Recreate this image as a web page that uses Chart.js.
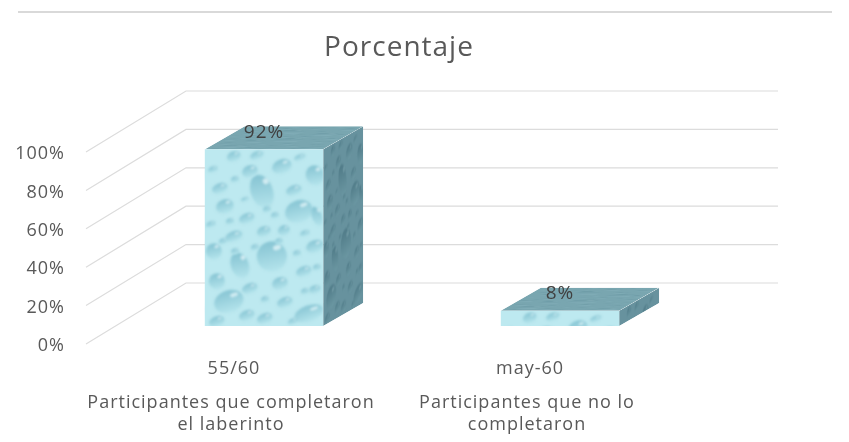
<!DOCTYPE html>
<html><head><meta charset="utf-8">
<style>html,body{margin:0;padding:0;background:#fff}#w{position:relative;width:849px;height:442px;overflow:hidden}
#rule{position:absolute;left:18px;top:11px;width:814px;height:2px;background:#d9d9d9}canvas{display:block}</style>
<script src="https://cdn.jsdelivr.net/npm/chart.js@4"></script></head>
<body><div id="w"><div id="rule"></div><canvas id="c" width="849" height="442"></canvas></div>
<script>
const title = 'Porcentaje';
const fractionLabels = ['55/60', 'may-60'];
const groupLabels = [['Participantes que completaron', 'el laberinto'], ['Participantes que no lo', 'completaron']];
const percentages = [92, 8];
const FONT = '"Open Sans", sans-serif';
const WALL = {dx: 100, dy: -61};
const BAR_OFFSET = {dx: 30, dy: -18};
const BAR_DEPTH = {dx: 40, dy: -23};
// water-drop texture motif: [x, y, rx, ry] within a 118x177 tile
const drops = [[57,42,11,17],[94,62,14,11],[110,26,9,10],[67,107,15,15],[35,116,9,13],[24,152,15,11],[104,164,15,8],[20,57,9,7],[45,22,8,6],[77,17,10,7],[89,41,8,5],[29,7,7,5],[52,6,7,4],[15,39,8,5],[42,69,8,5],[59,82,7,5],[29,87,9,5],[79,81,6,5],[110,97,9,6],[9,102,8,8],[12,132,8,8],[45,139,8,5],[75,134,8,6],[99,122,8,5],[80,153,8,5],[60,169,8,5],[42,166,8,5],[12,172,8,5],[112,67,5,10],[6,75,5,3],[100,84,5,3],[62,60,4,3],[95,8,6,3],[110,140,6,4],[70,66,4,3],[30,30,4,3],[8,20,5,3],[50,98,4,3],[92,104,4,3],[30,102,4,3],[60,150,4,3],[100,142,4,3],[112,118,4,3],[18,92,4,3],[40,50,4,2],[74,92,4,3],[25,72,4,3],[88,172,5,3]];
function tile(base, hi, dark, shine) {
  const t = document.createElement('canvas'); t.width = 118; t.height = 177;
  const g = t.getContext('2d');
  g.fillStyle = base; g.fillRect(0, 0, 118, 177);
  g.filter = 'blur(0.8px)';
  drops.forEach(([x, y, rx, ry]) => {
    const gr = g.createLinearGradient(x - rx * .4, y - ry, x, y + ry);
    gr.addColorStop(0, hi); gr.addColorStop(1, dark);
    g.fillStyle = gr; g.beginPath(); g.ellipse(x, y, rx, ry, -0.35, 0, 7); g.fill();
    g.fillStyle = shine; g.beginPath(); g.ellipse(x + rx * .35, y - ry * .6, rx * .28, ry * .18, -0.35, 0, 7); g.fill();
  });
  return t;
}
const ctx0 = document.getElementById('c').getContext('2d');
const frontTile = tile('#bde9f0', '#86c4d3', '#b4e4ec', 'rgba(235,250,252,.7)');
const sideTile = tile('#67929e', '#4f7a87', '#6b97a2', 'rgba(150,185,195,.35)');
const topTile = tile('#79a6b0', '#6d9ba6', '#82aeb8', 'rgba(160,195,203,.25)');
const frontPatterns = percentages.map(() => ctx0.createPattern(frontTile, 'repeat'));

const threeD = {
  id: 'threeD',
  beforeLayout(chart) { chart.ctx.letterSpacing = '1px'; },
  beforeDraw(chart) { chart.ctx.letterSpacing = '1px'; },
  beforeDatasetsDraw(chart) {
    const {ctx, chartArea: a, scales: {y}} = chart;
    ctx.save(); ctx.strokeStyle = '#dcdcdc'; ctx.lineWidth = 1.2;
    y.ticks.forEach(t => {
      const py = y.getPixelForValue(t.value);
      ctx.beginPath(); ctx.moveTo(a.left, py);
      ctx.lineTo(a.left + WALL.dx, py + WALL.dy);
      ctx.lineTo(a.right + WALL.dx, py + WALL.dy); ctx.stroke();
    });
    ctx.restore();
  },
  beforeDatasetDraw(chart, args) {
    const {ctx} = chart;
    args.meta.data.forEach((el, i) => {
      frontPatterns[i].setTransform(new DOMMatrix().translate(el.x - el.width / 2, el.y));
    });
    ctx.save(); ctx.translate(BAR_OFFSET.dx, BAR_OFFSET.dy);
  },
  afterDatasetDraw(chart, args) {
    const {ctx} = chart;
    const {dx, dy} = BAR_DEPTH;
    args.meta.data.forEach(el => {
      const l = el.x - el.width / 2, r = el.x + el.width / 2, h = el.base - el.y;
      // side face
      ctx.save(); ctx.beginPath();
      ctx.moveTo(r, el.y); ctx.lineTo(r + dx, el.y + dy); ctx.lineTo(r + dx, el.base + dy); ctx.lineTo(r, el.base); ctx.closePath(); ctx.clip();
      ctx.transform(dx / 118, dy / 118, 0, 1, r, el.y);
      ctx.fillStyle = ctx.createPattern(sideTile, 'repeat'); ctx.fillRect(0, 0, 118, h); ctx.restore();
      // top face
      ctx.save(); ctx.beginPath();
      ctx.moveTo(l, el.y); ctx.lineTo(l + dx, el.y + dy); ctx.lineTo(r + dx, el.y + dy); ctx.lineTo(r, el.y); ctx.closePath(); ctx.clip();
      ctx.transform(el.width / 118, 0, -dx / 177, -dy / 177, l + dx, el.y + dy);
      ctx.fillStyle = ctx.createPattern(topTile, 'repeat'); ctx.fillRect(0, 0, 118, 177); ctx.restore();
    });
    ctx.restore();
    ctx.save(); ctx.fillStyle = '#404040'; ctx.font = '19px ' + FONT; ctx.textAlign = 'center'; ctx.textBaseline = 'middle';
    args.meta.data.forEach((el, i) => ctx.fillText(percentages[i] + '%', el.x + BAR_OFFSET.dx, el.y + BAR_OFFSET.dy - 17));
    ctx.restore();
  }
};

new Chart(ctx0, {
  type: 'bar',
  data: {labels: fractionLabels, datasets: [{data: percentages, backgroundColor: frontPatterns, barPercentage: 0.4, categoryPercentage: 1, clip: false, xAxisID: 'x', yAxisID: 'y'}]},
  plugins: [threeD],
  options: {
    responsive: false, animation: false, devicePixelRatio: 1,
    layout: {padding: {left: 0, right: 51, top: 0, bottom: 0}},
    plugins: {
      legend: {display: false}, tooltip: {enabled: false},
      title: {display: true, text: title, color: '#595959', font: {family: FONT, size: 28, weight: 'normal', lineHeight: 1.2}, padding: {top: 31, bottom: 87.4}}
    },
    scales: {
      x: {position: 'bottom', grid: {display: false, drawTicks: false}, border: {display: false},
        ticks: {color: '#595959', padding: 14, maxRotation: 0, autoSkip: false, font: {family: FONT, size: 18}},
        afterFit(s) { s.height = 46; }},
      x2: {type: 'category', position: 'bottom', labels: groupLabels, offset: true, grid: {display: false, drawTicks: false}, border: {display: false},
        ticks: {color: '#595959', padding: 2, labelOffset: -3, maxRotation: 0, autoSkip: false, font: {family: FONT, size: 18, lineHeight: 1.22}},
        afterFit(s) { s.height = 52; }},
      y: {min: 0, max: 100, grid: {display: false, drawTicks: false}, border: {display: false},
        ticks: {stepSize: 20, color: '#595959', padding: 21, labelOffset: 2, font: {family: FONT, size: 18}, callback: v => v + '%'},
        afterFit(s) { s.width = 86; }},
      y2: {position: 'right', display: true, grid: {display: false, drawTicks: false}, border: {display: false}, ticks: {display: false},
        afterFit(s) { s.width = 120; }}
    }
  }
});
</script></body></html>
